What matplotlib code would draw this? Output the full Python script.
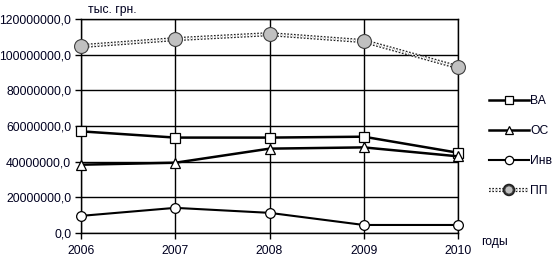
import matplotlib
matplotlib.use("Agg")
import matplotlib.pyplot as plt
import matplotlib.patheffects as pe
from matplotlib.ticker import FuncFormatter
from matplotlib.lines import Line2D

years = [2006, 2007, 2008, 2009, 2010]
va = [57000000, 53500000, 53500000, 54000000, 45000000]
os_ = [38300000, 39400000, 47300000, 48000000, 43000000]
inv = [9600000, 14100000, 11300000, 4500000, 4500000]
pp = [104800000, 108700000, 111500000, 107600000, 93000000]

plt.rcParams['font.family'] = ['Liberation Sans', 'DejaVu Sans']
txt = '#000020'
fs = 8.7

fig = plt.figure(figsize=(5.53, 2.59), dpi=100)
ax = fig.add_axes([81/553, 26/259, (458-81)/553, (233-19)/259])

ax.plot(years, va, color='black', lw=1.8, marker='s', ms=6.5, mfc='white', mec='black', mew=0.9, clip_on=False, zorder=3)
ax.plot(years, os_, color='black', lw=1.8, marker='^', ms=7, mfc='white', mec='black', mew=0.9, clip_on=False, zorder=3)
ax.plot(years, inv, color='black', lw=1.5, marker='o', ms=7, mfc='white', mec='black', mew=0.9, clip_on=False, zorder=3)
pe_pp = [pe.Stroke(linewidth=3.0, foreground='#202020'), pe.Normal()]
ax.plot(years, pp, color='white', lw=1.2, ls=(0, (1, 1)), path_effects=pe_pp, clip_on=False, zorder=3)
ax.plot(years, pp, ls='none', marker='o', ms=10, mfc='#c0c0c0', mec='#404040', mew=0.8, clip_on=False, zorder=4)

ax.set_xlim(2006, 2010)
ax.set_ylim(0, 120000000)
ax.set_xticks(years)
ax.set_yticks(range(0, 120000001, 20000000))
ax.yaxis.set_major_formatter(FuncFormatter(lambda v, p: f"{int(v)},0"))
ax.grid(True, color='black', lw=1)
ax.set_axisbelow(True)
for s in ax.spines.values():
    s.set_color('black')
    s.set_linewidth(1)
ax.tick_params(axis='both', direction='out', length=4, width=1, colors='black', labelcolor=txt, labelsize=fs)
ax.tick_params(axis='x', pad=5)
ax.tick_params(axis='y', pad=3)

fig.text(88/553, 1 - 10/259, 'тыс. грн.', fontsize=fs, color=txt, va='center', ha='left')
fig.text(481/553, 1 - 242/259, 'годы', fontsize=fs, color=txt, va='center', ha='left')

handles = [
    Line2D([], [], color='black', lw=1.8, marker='s', ms=6, mfc='white', mec='black', mew=0.9),
    Line2D([], [], color='black', lw=1.8, marker='^', ms=6, mfc='white', mec='black', mew=0.9),
    Line2D([], [], color='black', lw=1.5, marker='o', ms=6, mfc='white', mec='black', mew=0.9),
    Line2D([], [], color='white', lw=1.2, ls=(0, (1, 1)), path_effects=pe_pp, marker='o', ms=6, mfc='#c0c0c0', mec='#404040', mew=0.8),
]
labels = ['ВА', 'ОС', 'Инв', 'ПП']
fig.legend(handles, labels, loc='center left', bbox_to_anchor=(483/553, 1 - 146/259), frameon=False,
           fontsize=fs, labelcolor=txt, handlelength=3.3, handletextpad=0.1, labelspacing=1.5, borderpad=0)

fig.savefig('out.png', dpi=100)
